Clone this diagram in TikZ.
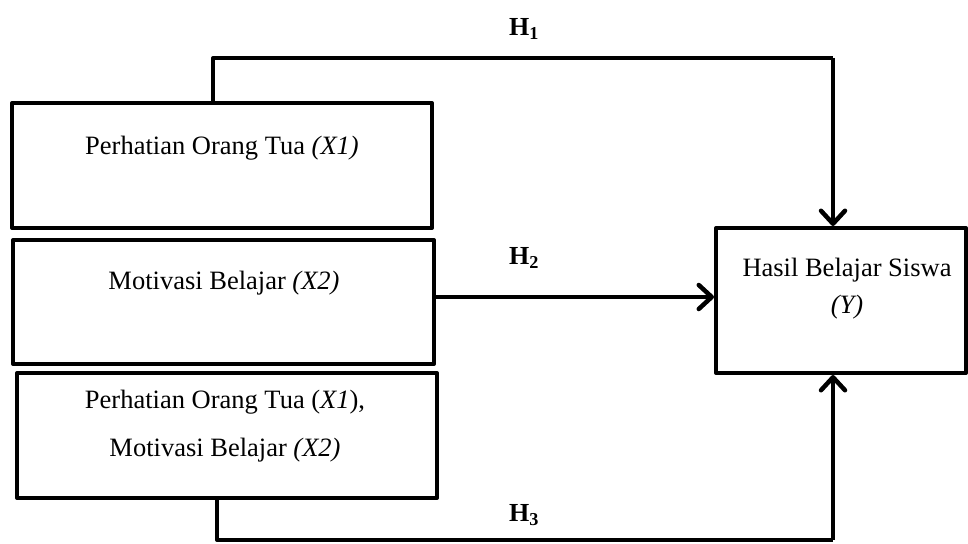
\documentclass[tikz,border=0pt]{standalone}
\usepackage{fontspec}
\setmainfont{Liberation Serif}
\usetikzlibrary{arrows.meta}
\begin{document}
\begin{tikzpicture}[x=1pt,y=-1pt,
  box/.style={draw=black,line width=4pt,line join=round,rectangle,inner sep=0pt},
  lbl/.style={font=\fontsize{26.5}{31}\selectfont,inner sep=0pt,align=center},
  hlbl/.style={font=\fontsize{26}{31}\selectfont\bfseries,inner sep=0pt},
  conn/.style={line width=4pt,line join=round,-{Straight Barb[length=13pt,width=24pt,line width=4.5pt,round]}},
  plain/.style={line width=4pt,line join=round}]
\useasboundingbox (0,0) rectangle (968,543);
\node[box,minimum width=420pt,minimum height=125pt] (b1) at (222,165.5) {};
\node[box,minimum width=421pt,minimum height=124pt] (b2) at (223.5,302) {};
\node[box,minimum width=420pt,minimum height=125pt] (b3) at (227,435.5) {};
\node[box,minimum width=250pt,minimum height=145pt] (y) at (841,300.5) {};
\node[lbl] (t1) at (222,148) {Perhatian Orang Tua \textit{(X1)}};
\node[lbl] (t2) at (224,283) {Motivasi Belajar \textit{(X2)}};
\node[lbl] (t3a) at (225,402) {Perhatian Orang Tua (\textit{X1}),};
\node[lbl] (t3b) at (225,450) {Motivasi Belajar \textit{(X2)}};
\node[lbl] (ty1) at (847,270) {Hasil Belajar Siswa};
\node[lbl] (ty2) at (847,307) {\textit{(Y)}};
\node[hlbl] (h1) at (524,29) {H\textsubscript{1}};
\node[hlbl] (h2) at (524,258) {H\textsubscript{2}};
\node[hlbl] (h3) at (524,515) {H\textsubscript{3}};
\coordinate (h1a) at (213,58);
\coordinate (h1b) at (833,58);
\coordinate (h2a) at (223,297);
\coordinate (h3a) at (217,540);
\coordinate (h3b) at (833,540);
\draw[plain] (h1a |- b1.north) -- (h1a) -- (h1b);
\draw[conn] (h1b) -- (h1b |- y.north);
\draw[conn] (h2a -| b2.east) -- (h2a -| y.west);
\draw[plain] (h3a |- b3.south) -- (h3a) -- (h3b);
\draw[conn] (h3b) -- (h3b |- y.south);
\end{tikzpicture}
\end{document}
